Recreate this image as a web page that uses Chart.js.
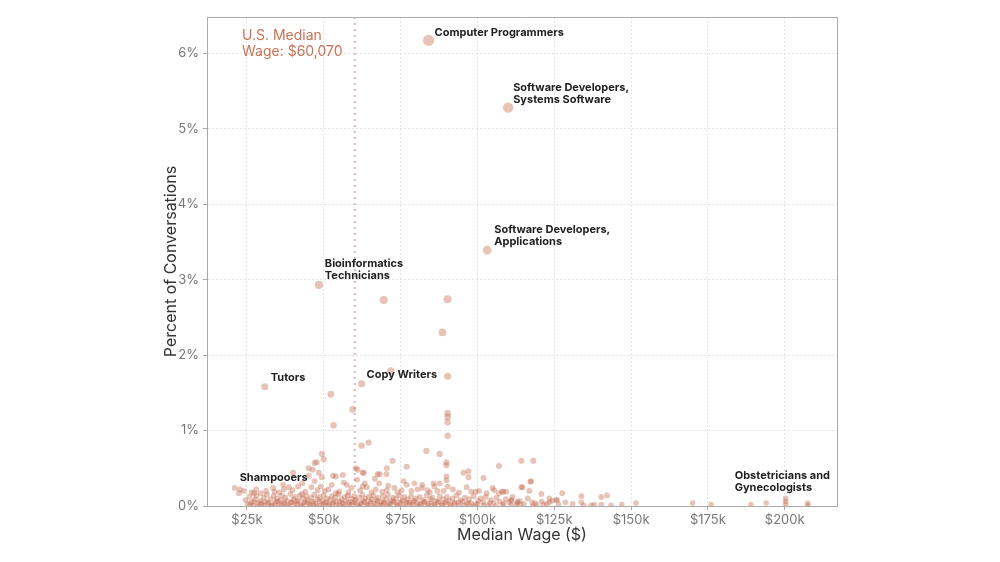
<!DOCTYPE html>
<html>
<head>
<meta charset="utf-8">
<script src="https://cdn.jsdelivr.net/npm/chart.js@4.4.0/dist/chart.umd.min.js"></script>
<style>
html,body{margin:0;padding:0;background:#fff;}
canvas{display:block;}
</style>
</head>
<body>
<canvas id="c" width="1000" height="562"></canvas>
<script>
// ---- DATA: [median wage in $k, percent of conversations] ----
const labeledPoints = [
  [84.1, 6.17], [110.0, 5.28], [103.2, 3.39], [48.4, 2.93],
  [30.8, 1.58], [62.3, 1.62], [21.0, 0.24], [200.3, 0.10]
];
const labelNames = [
  ["Computer Programmers"],
  ["Software Developers,", "Systems Software"],
  ["Software Developers,", "Applications"],
  ["Bioinformatics", "Technicians"],
  ["Tutors"],
  ["Copy Writers"],
  ["Shampooers"],
  ["Obstetricians and", "Gynecologists"]
];
const midPoints = [
  [69.5,2.73],[90.3,2.74],[88.6,2.30],[71.8,1.79],[90.3,1.72],[52.3,1.48],[59.4,1.28],[53.2,1.07],
  [90.3,1.23],[90.3,1.18],[90.3,1.11],[90.3,0.93],[62.3,0.80],[64.6,0.84],[49.4,0.69],[50.0,0.62],
  [47.7,0.58],[83.4,0.73],[87.7,0.69],[89.9,0.58],[89.9,0.54],[72.4,0.60],[45.1,0.50],[48.4,0.44],
  [60.4,0.50],[61.0,0.48],[77.0,0.52],[107.0,0.53],[95.5,0.44],[97.1,0.46],[97.1,0.38],[102.0,0.37],
  [62.7,0.44],[70.4,0.42],[68.2,0.42],[89.9,0.39],[89.9,0.34],[56.2,0.41],[53.0,0.40],[53.9,0.39],
  [40.0,0.44],[22.7,0.22],[22.4,0.17],[114.3,0.60],[118.2,0.60],[117.5,0.33],[117.2,0.32],[114.6,0.25],
  [116.9,0.20],[120.8,0.16],[127.6,0.17],[133.8,0.13],[140.3,0.12],[142.2,0.14],[151.6,0.04],[170.0,0.04],
  [176.0,0.02],[189.0,0.02],[194.0,0.04],[200.3,0.06],[200.3,0.02],[207.5,0.04],[207.5,0.01],[108.0,0.19],
  [109.4,0.19],[111.0,0.08],[113.0,0.06],[123.4,0.10],[125.6,0.08],[123.4,0.05],[133.8,0.05],[137.0,0.01],
  [140.3,0.02],[118.8,0.04],[126.0,0.08],[85.7,0.30],[87.7,0.30],[90.3,0.26],[89.0,0.20],[87.0,0.20],
  [83.8,0.21],[99.4,0.19],[98.0,0.19],[104.9,0.24],[107.0,0.17],[108.4,0.19],[114.3,0.25],[82.1,0.24],
  [111.0,0.07],[113.0,0.04],[49.4,0.38],[63.0,0.44],[66.6,0.36],[67.5,0.42],[70.5,0.50],[77.0,0.28],
  [79.5,0.30],[63.3,0.30],[62.7,0.26],[66.9,0.22],[70.5,0.21],[59.0,0.24],[57.5,0.28],[53.9,0.17],
  [52.6,0.28],[48.0,0.21],[50.3,0.20],[73.0,0.24],[75.3,0.21],[82.0,0.28],[45.1,0.40],[46.4,0.48],
  [47.0,0.57],[37.0,0.22],[38.6,0.25],[41.6,0.26],[27.3,0.17],[29.5,0.17],[34.0,0.19],[42.9,0.16],[46.0,0.25]
];
const lowPoints = [
  [24.5,0.08],[25.2,0.03],[25.8,0.12],[26.4,0.05],[27.0,0.01],[27.6,0.09],[28.1,0.14],[28.7,0.04],
  [29.3,0.07],[29.9,0.02],[30.4,0.11],[31.0,0.06],[31.5,0.15],[32.1,0.03],[32.6,0.09],[33.2,0.01],
  [33.7,0.13],[34.3,0.06],[34.8,0.10],[35.3,0.02],[35.9,0.08],[36.4,0.14],[36.9,0.04],[37.5,0.11],
  [38.0,0.07],[38.5,0.01],[39.1,0.16],[39.6,0.05],[40.1,0.09],[40.6,0.12],[41.2,0.03],[41.7,0.07],
  [42.2,0.14],[42.7,0.01],[43.3,0.10],[43.8,0.05],[44.3,0.13],[44.8,0.08],[45.3,0.02],[45.9,0.11],
  [46.4,0.06],[46.9,0.15],[47.4,0.03],[47.9,0.09],[48.5,0.12],[49.0,0.01],[49.5,0.07],[50.0,0.14],
  [50.5,0.04],[51.1,0.10],[51.6,0.02],[52.1,0.08],[52.6,0.13],[53.1,0.05],[53.7,0.11],[54.2,0.01],
  [54.7,0.16],[55.2,0.06],[55.7,0.09],[56.3,0.03],[56.8,0.12],[57.3,0.07],[57.8,0.14],[58.3,0.02],
  [58.9,0.10],[59.4,0.05],[59.9,0.13],[60.4,0.08],[60.9,0.01],[61.5,0.11],[62.0,0.04],[62.5,0.15],
  [63.0,0.07],[63.5,0.10],[64.1,0.02],[64.6,0.12],[65.1,0.06],[65.6,0.09],[66.2,0.14],[66.7,0.03],
  [67.2,0.08],[67.7,0.11],[68.3,0.01],[68.8,0.06],[69.3,0.13],[69.8,0.04],[70.4,0.09],[70.9,0.15],
  [71.4,0.02],[71.9,0.07],[72.5,0.11],[73.0,0.05],[73.5,0.10],[74.1,0.01],[74.6,0.14],[75.1,0.06],
  [75.7,0.08],[76.2,0.12],[76.7,0.03],[77.3,0.09],[77.8,0.05],[78.4,0.13],[78.9,0.02],[79.5,0.07],
  [80.0,0.10],[80.6,0.04],[81.2,0.12],[81.7,0.01],[82.3,0.08],[82.9,0.06],[83.5,0.14],[84.1,0.03],
  [84.7,0.09],[85.3,0.11],[85.9,0.02],[86.5,0.07],[87.1,0.05],[87.7,0.13],[88.3,0.01],[88.9,0.09],
  [89.5,0.04],[90.1,0.12],[90.7,0.07],[91.3,0.02],[91.9,0.10],[92.6,0.05],[93.2,0.14],[93.9,0.01],
  [94.5,0.08],[95.2,0.06],[95.9,0.11],[96.6,0.03],[97.3,0.09],[98.0,0.04],[98.8,0.13],[99.5,0.02],
  [100.3,0.07],[101.1,0.10],[101.9,0.05],[102.7,0.12],[103.6,0.01],[104.4,0.08],[105.3,0.04],[106.2,0.11],
  [107.2,0.06],[108.2,0.02],[109.2,0.09],[110.3,0.05],[111.4,0.12],[112.6,0.02],[113.8,0.07],[115.1,0.03],
  [116.4,0.10],[117.8,0.05],[119.3,0.01],[120.9,0.06],[122.6,0.03],[124.4,0.07],[126.4,0.02],[128.6,0.05],
  [131.0,0.03],[134.5,0.01],[138.0,0.02],[143.5,0.01],[147.0,0.02],
  [26.0,0.02],[27.3,0.06],[28.4,0.00],[29.6,0.04],[30.7,0.01],[31.8,0.05],[32.9,0.00],[34.0,0.03],
  [35.1,0.06],[36.2,0.01],[37.2,0.04],[38.3,0.00],[39.3,0.05],[40.4,0.02],[41.4,0.06],[42.5,0.00],
  [43.5,0.03],[44.6,0.05],[45.6,0.01],[46.6,0.04],[47.7,0.00],[48.7,0.06],[49.8,0.02],[50.8,0.05],
  [51.8,0.00],[52.9,0.03],[53.9,0.06],[55.0,0.01],[56.0,0.04],[57.0,0.00],[58.1,0.05],[59.1,0.02],
  [60.1,0.06],[61.2,0.00],[62.2,0.03],[63.3,0.05],[64.3,0.01],[65.3,0.04],[66.4,0.00],[67.4,0.06],
  [68.5,0.02],[69.5,0.05],[70.6,0.00],[71.6,0.03],[72.7,0.06],[73.8,0.01],[74.8,0.04],[75.9,0.00],
  [77.0,0.05],[78.1,0.02],[79.2,0.06],[80.3,0.00],[81.4,0.03],[82.6,0.05],[83.8,0.01],[85.0,0.04],
  [86.2,0.00],[87.4,0.06],[88.6,0.02],[89.9,0.05],[91.2,0.00],[92.5,0.03],[93.8,0.05],[95.5,0.01],
  [97.0,0.04],[98.5,0.00],[100.0,0.03],[102.0,0.01],[104.0,0.04],[106.0,0.00],[108.5,0.03],[111.0,0.01],
  [114.0,0.02],[118.0,0.00],[121.5,0.02],
  [24.0,0.20],[26.5,0.18],[28.0,0.22],[31.2,0.20],[33.5,0.24],[35.5,0.18],[36.8,0.28],[39.8,0.21],
  [43.0,0.30],[44.0,0.19],[47.0,0.33],[49.0,0.26],[51.5,0.22],[55.0,0.19],[56.5,0.31],[58.0,0.18],
  [60.8,0.35],[61.8,0.21],[64.0,0.25],[65.5,0.18],[68.0,0.30],[69.0,0.19],[71.0,0.27],[74.0,0.18],
  [76.0,0.33],[78.5,0.20],[80.5,0.22],[84.5,0.18],[86.0,0.26],[92.0,0.22],[94.0,0.18],[96.5,0.25],
  [100.5,0.20],[103.0,0.17],[105.5,0.21]
];
const usMedianWageK = 60.07;
const medianNote = ["U.S. Median", "Wage: $60,070"];
const xTicks = [25, 50, 75, 100, 125, 150, 175, 200];
const yTicks = [0, 1, 2, 3, 4, 5, 6];

// ---- rendering ----
const FONT = "Inter, 'Noto Sans', 'DejaVu Sans', sans-serif";
const allPoints = lowPoints.concat(midPoints, labeledPoints).map(([x, y]) => ({x, y}));

// label anchors relative to their point (pixels)
const labelOffsets = [
  {dx: 6, dy: -8}, {dx: 5, dy: -20}, {dx: 7, dy: -20}, {dx: 6, dy: -21},
  {dx: 6, dy: -9}, {dx: 5, dy: -9}, {dx: 5, dy: -10}, {dx: -51, dy: -23}
];

const decorPlugin = {
  id: 'decor',
  beforeDatasetsDraw(chart) {
    const {ctx, chartArea: a, scales: {x}} = chart;
    const px = x.getPixelForValue(usMedianWageK);
    ctx.save();
    ctx.strokeStyle = 'rgba(210,188,184,0.95)';
    ctx.lineWidth = 2;
    ctx.setLineDash([2, 4]);
    ctx.beginPath();
    ctx.moveTo(px, a.top);
    ctx.lineTo(px, a.bottom);
    ctx.stroke();
    ctx.restore();
  },
  afterDatasetsDraw(chart) {
    const {ctx, chartArea: a, scales: {x, y}} = chart;
    ctx.save();
    // box top and right
    ctx.strokeStyle = '#aaaaaa';
    ctx.lineWidth = 1;
    ctx.beginPath();
    ctx.moveTo(a.left, a.top + 0.5);
    ctx.lineTo(a.right + 0.5, a.top + 0.5);
    ctx.lineTo(a.right + 0.5, a.bottom);
    ctx.stroke();
    // median note
    ctx.fillStyle = '#c87356';
    ctx.font = "14px " + FONT;
    ctx.textBaseline = 'middle';
    ctx.textAlign = 'left';
    medianNote.forEach((t, i) => ctx.fillText(t, a.left + 35, a.top + 19 + i * 16));
    // point labels
    ctx.fillStyle = '#222222';
    ctx.font = "bold 11px " + FONT;
    labeledPoints.forEach(([wx, wy], i) => {
      const px = x.getPixelForValue(wx), py = y.getPixelForValue(wy);
      const o = labelOffsets[i];
      labelNames[i].forEach((line, j) => ctx.fillText(line, px + o.dx, py + o.dy + j * 12));
    });
    ctx.restore();
  }
};

new Chart(document.getElementById('c'), {
  type: 'scatter',
  data: {
    datasets: [{
      data: allPoints,
      backgroundColor: 'rgba(196,104,78,0.4)',
      borderWidth: 0,
      pointRadius: c => 2.8 + 0.45 * c.raw.y,
      pointHoverRadius: c => 2.8 + 0.45 * c.raw.y,
      clip: 0
    }]
  },
  options: {
    responsive: false,
    animation: false,
    devicePixelRatio: 1,
    events: [],
    layout: {padding: {left: 150, right: 163, top: 17, bottom: 11}},
    plugins: {legend: {display: false}, tooltip: {enabled: false}},
    scales: {
      x: {
        type: 'linear', min: 12, max: 217,
        afterBuildTicks: s => { s.ticks = xTicks.map(v => ({value: v})); },
        afterFit: s => { s.height = 45; },
        grid: {color: '#e3e3e3', tickColor: '#aaaaaa', tickLength: 4},
        border: {color: '#aaaaaa', dash: [2, 2]},
        ticks: {color: '#777777', padding: 2, font: {family: FONT, size: 13}, callback: v => '$' + v + 'k'},
        title: {display: true, text: 'Median Wage ($)', color: '#333333', font: {family: FONT, size: 16}, padding: {top: 0, bottom: 6}}
      },
      y: {
        type: 'linear', min: 0, max: 6.48,
        afterBuildTicks: s => { s.ticks = yTicks.map(v => ({value: v})); },
        afterFit: s => { s.width = 57; },
        grid: {color: '#e3e3e3', tickColor: '#aaaaaa', tickLength: 4},
        border: {color: '#aaaaaa', dash: [2, 2]},
        ticks: {color: '#777777', padding: 4, font: {family: FONT, size: 13}, callback: v => v + '%'},
        title: {display: true, text: 'Percent of Conversations', color: '#333333', font: {family: FONT, size: 16}, padding: {top: 12, bottom: 0}}
      }
    }
  },
  plugins: [decorPlugin]
});
</script>
</body>
</html>
